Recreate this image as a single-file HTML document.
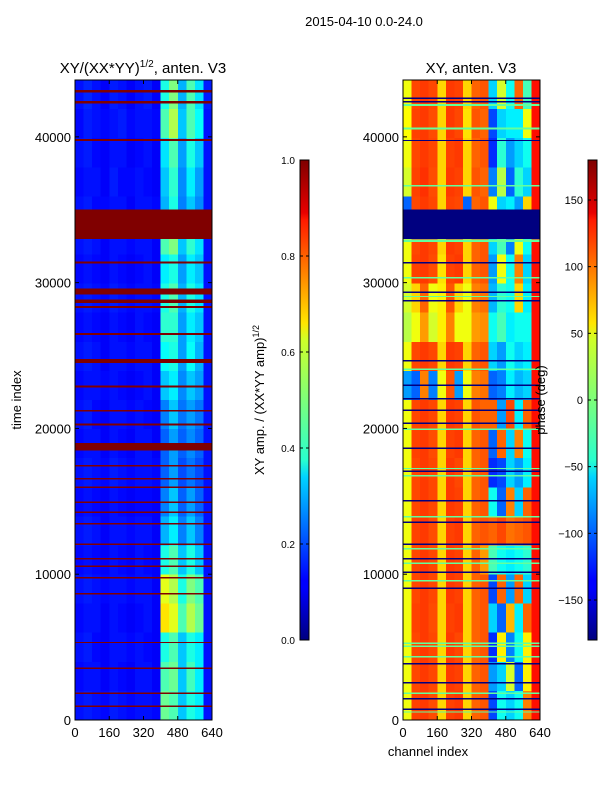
<!DOCTYPE html>
<html><head><meta charset="utf-8"><style>
body{margin:0;background:#fff;font-family:"Liberation Sans",sans-serif}
svg text{font-family:"Liberation Sans",sans-serif;fill:#000}
</style></head><body>
<svg id="fig" width="600" height="800" xmlns="http://www.w3.org/2000/svg">
<defs>
<linearGradient id="jet" x1="0" y1="1" x2="0" y2="0">
<stop offset="0" stop-color="#00007f"/><stop offset="0.11" stop-color="#0000ff"/><stop offset="0.125" stop-color="#0000ff"/>
<stop offset="0.34" stop-color="#00d4ff"/><stop offset="0.375" stop-color="#29ffce"/><stop offset="0.5" stop-color="#7dff7a"/>
<stop offset="0.625" stop-color="#ceff29"/><stop offset="0.66" stop-color="#ffe500"/><stop offset="0.875" stop-color="#ff1a00"/>
<stop offset="0.89" stop-color="#e80000"/><stop offset="1" stop-color="#7f0000"/></linearGradient>
</defs>
<text x="364" y="26" font-size="13" text-anchor="middle">2015-04-10 0.0-24.0</text>
<g id="left"></g>
<g id="right"></g>
<text x="143" y="73" font-size="15" text-anchor="middle">XY/(XX*YY)<tspan font-size="10" dy="-6">1/2</tspan><tspan dy="6">, anten. V3</tspan></text>
<text x="471" y="73" font-size="15" text-anchor="middle">XY, anten. V3</text>
<text transform="translate(21,400) rotate(-90)" font-size="13" text-anchor="middle">time index</text>
<text x="428" y="756" font-size="13" text-anchor="middle">channel index</text>
<rect x="300" y="160" width="9" height="480" fill="url(#jet)" stroke="#000"/>
<rect x="588" y="160" width="9" height="480" fill="url(#jet)" stroke="#000"/>
<text transform="translate(264,400) rotate(-90)" font-size="13" text-anchor="middle">XY amp. / (XX*YY amp)<tspan font-size="9" dy="-5">1/2</tspan></text>
<text transform="translate(545,400) rotate(-90)" font-size="13" text-anchor="middle">phase (deg)</text>
<g id="cb"></g>
</svg>
<script>
const tMax = 43900;
const channelTicks = [0,160,320,480,640];
const timeTicks = [0,10000,20000,30000,40000];
const ampTicks = [0.0,0.2,0.4,0.6,0.8,1.0];
const phaseTicks = [-150,-100,-50,0,50,100,150];
// rows top (43900) to bottom (0), 16 channel columns of 40
const ampRows = [
[.14,.16,.14,.12,.15,.14,.12,.14,.15,.12,.40,.50,.30,.45,.35,.15],
[.13,.15,.14,.13,.14,.15,.13,.14,.14,.13,.45,.55,.32,.45,.38,.14],
[.14,.15,.13,.12,.14,.14,.12,.13,.14,.12,.35,.45,.28,.40,.32,.14],
[.13,.14,.14,.12,.15,.13,.13,.14,.13,.12,.32,.42,.26,.36,.28,.14],
[.14,.15,.13,.13,.14,.14,.12,.14,.14,.13,.30,.40,.25,.32,.26,.14],
[.14,.15,.14,.12,.14,.14,.13,.14,.14,.12,.45,.50,.32,.42,.35,.14],
[.13,.14,.13,.12,.14,.13,.12,.13,.14,.12,.36,.40,.28,.36,.32,.14],
[.14,.15,.14,.13,.15,.14,.13,.14,.14,.13,.40,.45,.30,.40,.35,.14],
[.13,.14,.13,.12,.14,.13,.12,.14,.13,.12,.42,.42,.28,.36,.32,.14],
[.14,.15,.14,.12,.14,.14,.13,.14,.14,.12,.38,.40,.28,.38,.30,.14],
[.13,.14,.14,.13,.14,.13,.12,.13,.14,.12,.32,.36,.26,.32,.28,.14],
[.14,.15,.13,.12,.14,.14,.13,.14,.13,.12,.25,.32,.24,.28,.24,.14],
[.13,.14,.14,.12,.14,.13,.12,.14,.14,.12,.22,.28,.22,.26,.22,.14],
[.14,.15,.14,.13,.15,.14,.13,.14,.14,.13,.22,.28,.20,.24,.20,.14],
[.13,.14,.13,.12,.14,.13,.12,.13,.13,.12,.25,.32,.22,.28,.22,.14],
[.14,.15,.14,.12,.14,.14,.13,.14,.14,.12,.30,.36,.25,.32,.25,.14],
[.13,.14,.13,.12,.14,.13,.12,.14,.13,.12,.40,.45,.32,.40,.32,.14],
[.14,.15,.14,.13,.14,.14,.13,.14,.14,.12,.60,.55,.40,.50,.45,.14],
[.13,.14,.14,.12,.14,.13,.12,.13,.14,.12,.65,.60,.45,.55,.48,.14],
[.14,.15,.13,.12,.14,.14,.13,.14,.13,.12,.40,.45,.32,.40,.36,.14],
[.13,.14,.14,.12,.14,.13,.12,.14,.14,.12,.45,.48,.32,.44,.36,.14],
[.14,.15,.14,.13,.15,.14,.13,.14,.14,.13,.48,.45,.32,.40,.36,.14]
];
const phaseRows = [
[40,110,115,110,60,115,112,60,100,105,-60,30,-40,100,-20,130],
[45,112,115,108,60,115,110,55,105,100,-110,-60,-50,-50,40,130],
[40,110,115,110,60,112,115,60,100,105,-120,-30,-80,-60,-40,130],
[30,112,118,108,60,115,112,60,105,100,-90,20,-100,-30,-60,130],
[-100,110,115,110,60,112,110,-100,100,105,40,-60,-50,-80,60,130],
[40,110,115,110,60,115,112,60,100,105,-60,-20,-90,40,-40,130],
[40,112,115,108,55,112,115,60,100,105,-80,40,-40,90,-60,130],
[30,60,100,40,50,105,60,40,90,95,-70,-30,-40,60,-50,130],
[20,40,80,30,50,90,40,40,80,85,-40,-20,-50,-40,-40,130],
[40,110,115,110,60,115,112,60,100,105,-60,-80,-40,-60,-50,130],
[-80,-100,90,-90,40,105,-80,40,90,95,-100,-90,-50,-70,-60,130],
[40,110,115,110,60,115,112,60,105,100,100,-80,110,-50,100,130],
[40,112,115,108,60,112,115,60,100,105,-100,100,-60,90,-40,130],
[40,110,115,110,60,115,110,60,100,105,-120,-110,-60,-80,-50,130],
[40,110,115,110,60,115,112,60,100,105,-40,-100,90,-60,100,130],
[40,112,115,108,60,112,115,60,100,105,100,110,95,100,105,130],
[40,110,115,110,60,115,112,60,100,80,-20,-40,-50,-40,-30,130],
[40,110,115,110,60,115,112,60,100,105,-110,100,-80,100,-60,130],
[40,112,115,108,60,112,115,60,100,105,-60,-100,70,-50,100,130],
[40,110,115,110,60,115,110,60,100,105,-120,50,-90,-40,50,130],
[40,110,115,110,60,115,112,60,100,105,-80,-60,30,-100,50,130],
[40,112,115,108,60,112,115,60,100,105,-110,-40,-60,-40,90,130]
];
// horizontal bands: [tStart, tEnd]
const ampRedBands = [[33000,35000],[43050,43200],[42300,42450],[39700,39850],[31300,31450],[29200,29600],[28600,28850],[28250,28400],[26400,26550],[24500,24750],[22800,22950],[21150,21250],[20200,20350],[18500,19000],[17400,17500],[16500,16600],[15900,16000],[14900,15000],[14200,14300],[13400,13500],[12000,12100],[11000,11100],[10500,10600],[9700,9800],[8600,8700],[5300,5350],[3500,3600],[1800,1900],[900,1000]];
const phaseBlueBands = [[33000,35000],[42600,42700],[42350,42450],[39700,39800],[31300,31400],[29300,29400],[28700,28800],[24600,24700],[22900,23000],[22000,22100],[21200,21300],[20300,20400],[18600,18700],[17000,17100],[15000,15100],[13500,13600],[12000,12100],[11000,11100],[10100,10200],[9000,9100],[3800,3900],[2500,2600],[1400,1500],[700,800]];
const phaseGreenBands = [[42100,42250],[40500,40650],[36600,36700],[32800,32950],[30300,30400],[29000,29100],[24000,24100],[19900,20000],[17200,17300],[16700,16800],[13900,14000],[11700,11800],[10700,10800],[9500,9600],[5200,5300],[5000,5100],[4300,4400],[1800,1900],[500,600]];

function jet(v){v=Math.max(0,Math.min(1,v));
 const r=Math.max(0,Math.min(1,1.5-Math.abs(4*v-3))),g=Math.max(0,Math.min(1,1.5-Math.abs(4*v-2))),b=Math.max(0,Math.min(1,1.5-Math.abs(4*v-1)));
 return `rgb(${Math.round(r*255)},${Math.round(g*255)},${Math.round(b*255)})`;}
const NS='http://www.w3.org/2000/svg';
function el(tag,attrs,parent){const e=document.createElementNS(NS,tag);for(const k in attrs)e.setAttribute(k,attrs[k]);parent.appendChild(e);return e;}
function panel(g,x0,rows,norm,bands){
 const W=137,y0=80,H=640;
 const xs=c=>x0+c/640*W, ys=t=>y0+H-t/tMax*H;
 const rowH=tMax/rows.length;
 rows.forEach((row,i)=>{row.forEach((v,j)=>{
  const t1=tMax-i*rowH,t0=t1-rowH;
  const r=el('rect',{x:xs(j*40),y:ys(t1),width:xs((j+1)*40)-xs(j*40)+0.3,height:ys(t0)-ys(t1)+0.3,fill:jet(norm(v)),'shape-rendering':'crispEdges'},g);
  
  
 });});
 bands.forEach(([list,val])=>list.forEach(([a,b])=>{
  const r=el('rect',{x:x0,y:ys(b),width:W,height:Math.max(1,ys(a)-ys(b)),fill:jet(norm(val)),'shape-rendering':'crispEdges'},g);
  
  
 }));
 el('rect',{x:x0,y:y0,width:W,height:H,fill:'none',stroke:'#000'},g);
 channelTicks.forEach(c=>{el('line',{x1:xs(c),x2:xs(c),y1:y0+H,y2:y0+H-4,stroke:'#000'},g);el('line',{x1:xs(c),x2:xs(c),y1:y0,y2:y0+4,stroke:'#000'},g);
  const t=el('text',{x:xs(c),y:y0+H+17,'font-size':13,'text-anchor':'middle'},g);t.textContent=c;
  
  });
 timeTicks.forEach(v=>{el('line',{x1:x0,x2:x0+4,y1:ys(v),y2:ys(v),stroke:'#000'},g);el('line',{x1:x0+W,x2:x0+W-4,y1:ys(v),y2:ys(v),stroke:'#000'},g);
  const t=el('text',{x:x0-4,y:ys(v)+5,'font-size':13,'text-anchor':'end'},g);t.textContent=v;
  
  });
}
panel(document.getElementById('left'),75,ampRows,v=>v,[[ampRedBands,1.0]]);
panel(document.getElementById('right'),403,phaseRows,v=>(v+180)/360,[[phaseBlueBands,-180],[phaseGreenBands,-10]]);
const cb=document.getElementById('cb');
ampTicks.forEach(v=>{const y=640-v*480;el('line',{x1:300,x2:303,y1:y,y2:y,stroke:'#000'},cb);el('line',{x1:306,x2:309,y1:y,y2:y,stroke:'#000'},cb);
 const t=el('text',{x:295,y:y+4,'font-size':10,'text-anchor':'end'},cb);t.textContent=v.toFixed(1);
 
 });
phaseTicks.forEach(v=>{const y=400-v*480/360;el('line',{x1:588,x2:591,y1:y,y2:y,stroke:'#000'},cb);el('line',{x1:594,x2:597,y1:y,y2:y,stroke:'#000'},cb);
 const t=el('text',{x:583,y:y+4,'font-size':11,'text-anchor':'end'},cb);t.textContent=v<0?'\u2212'+(-v):v;
 
 });
</script>
</body></html>
